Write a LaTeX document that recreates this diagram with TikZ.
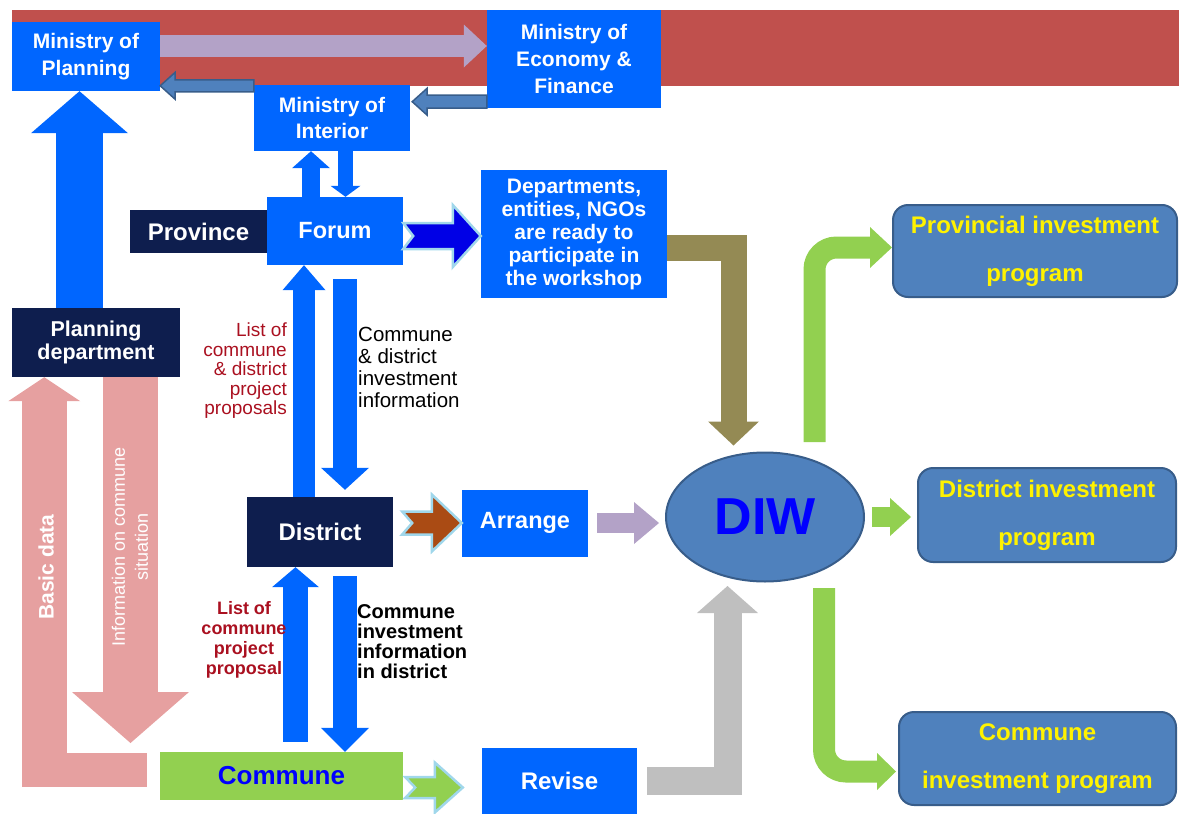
\documentclass[tikz,border=0pt]{standalone}
\usepackage{fontspec}
\setmainfont{Liberation Sans}
\usetikzlibrary{arrows.meta,calc,shapes.geometric}

\definecolor{bandred}{RGB}{192,80,77}
\definecolor{boxblue}{RGB}{0,102,255}
\definecolor{navybox}{RGB}{14,30,78}
\definecolor{steel}{RGB}{79,129,189}
\definecolor{steeldark}{RGB}{56,93,138}
\definecolor{lilacarr}{RGB}{179,162,199}
\definecolor{olivearr}{RGB}{148,138,84}
\definecolor{leaf}{RGB}{146,208,80}
\definecolor{pinkarr}{RGB}{230,160,160}
\definecolor{greyarr}{RGB}{191,191,191}
\definecolor{rustarr}{RGB}{170,75,20}
\definecolor{deepblue}{RGB}{0,0,230}
\definecolor{aqua}{RGB}{160,215,235}
\definecolor{labelred}{RGB}{170,16,32}
\definecolor{diwblue}{RGB}{0,0,255}

% horizontal block arrow: style, from, to, shaft half, head half, head length, notch
\newcommand\blockarrow[7]{%
  \filldraw[#1] let \p1=(#2), \p2=(#3) in
    ({\x1},{\y1+#4pt}) -- ({\x2-(#6pt)},{\y1+#4pt}) -- ({\x2-(#6pt)},{\y1+#5pt}) -- ({\x2},{\y1})
    -- ({\x2-(#6pt)},{\y1-#5pt}) -- ({\x2-(#6pt)},{\y1-#4pt}) -- ({\x1},{\y1-#4pt})
    -- ({\x1+#7pt},{\y1}) -- cycle;}

\begin{document}
\begin{tikzpicture}[x=1pt,y=-1pt,
    box/.style={fill=boxblue,text=white,align=center,inner sep=0pt,
      font=\bfseries\fontsize{21}{26.5}\selectfont},
    darkbox/.style={box,fill=navybox},
    prog/.style={fill=steel,draw=steeldark,line width=2pt,rounded corners=15pt,
      text=yellow,align=center,inner sep=0pt,font=\bfseries\fontsize{24}{48}\selectfont},
    fat/.style n args={4}{draw=#1,line width=#2pt,
      -{Triangle[length=#3pt,width=#4pt,line width=0pt 0 0]}},
    steelarrow/.style={fill=steel,draw=steeldark,line width=1.5pt},
    notch/.style={fill=#1,draw=aqua,line width=2.5pt},
    lbl/.style={inner sep=0pt}]
      \useasboundingbox (0,0) rectangle (1179,814);
      \fill[bandred] (12,10) rectangle (1179,86);

      \node[box,minimum width=148pt,minimum height=69pt] (moplan) at (86,56.5) {Ministry of\\Planning};
      \node[box,minimum width=174pt,minimum height=98pt,font=\bfseries\fontsize{21}{27}\selectfont] (moef) at (574,59) {Ministry of\\Economy \&\\Finance};
      \node[box,minimum width=156pt,minimum height=66pt] (moint) at (332,118) {Ministry of\\Interior};
      \node[darkbox,minimum width=137pt,minimum height=43pt,font=\bfseries\fontsize{24}{26}\selectfont] (province) at (198.5,231.5) {Province};
      \node[box,minimum width=136pt,minimum height=68pt,font=\bfseries\fontsize{23.5}{26}\selectfont] (forum) at (335,231) {Forum};
      \node[box,minimum width=186pt,minimum height=128pt,font=\bfseries\fontsize{21}{23}\selectfont] (dept) at (574,234) {Departments,\\entities, NGOs\\are ready to\\participate in\\the workshop};
      \node[darkbox,minimum width=168pt,minimum height=69pt,font=\bfseries\fontsize{21.5}{23}\selectfont] (plandept) at (96,342.5) {Planning\\department};
      \node[darkbox,minimum width=146pt,minimum height=70pt,font=\bfseries\fontsize{24}{26}\selectfont] (district) at (320,532) {District};
      \node[box,minimum width=126pt,minimum height=67pt,font=\bfseries\fontsize{23.5}{26}\selectfont] (arrange) at (525,523) {Arrange};
      \node[box,minimum width=243pt,minimum height=48pt,fill=leaf,text=diwblue,font=\bfseries\fontsize{26}{28}\selectfont] (commune) at (281.5,776) {Commune};
      \node[box,minimum width=155pt,minimum height=66pt,font=\bfseries\fontsize{24}{26}\selectfont] (revise) at (559.5,781) {Revise};
      \node[ellipse,fill=steel,draw=steeldark,line width=2pt,minimum width=198pt,minimum height=129pt,
        text=diwblue,font=\bfseries\fontsize{52}{52}\selectfont] (diw) at (765,517) {DIW};
      \node[prog,minimum width=284pt,minimum height=92pt] (provprog) at (1035,251) {Provincial investment\\program};
      \node[prog,minimum width=258pt,minimum height=94pt] (distprog) at (1047,515) {District investment\\program};
      \node[prog,minimum width=277pt,minimum height=93pt] (comprog) at (1037.5,758.5) {Commune\\investment program};

      \coordinate (pd1) at ([xshift=-16.5pt]plandept.north);
      \coordinate (mp1) at ([yshift=10.5pt]moplan.east);
      \coordinate (fm1) at ([xshift=-24pt]forum.north);
      \coordinate (fm2) at ([xshift=13.5pt]moint.south);
      \coordinate (fd1) at ([xshift=-31pt]forum.south);
      \coordinate (fd2) at ([shift={(10pt,-14pt)}]forum.south);
      \coordinate (fd3) at ([yshift=7pt]district.north);
      \coordinate (dc1) at ([xshift=-24.5pt]district.south);
      \coordinate (dc0) at ([yshift=10pt]commune.north);
      \coordinate (dc2) at ([shift={(25pt,-9pt)}]district.south);
      \coordinate (da1) at (district.east |- arrange.west);
      \coordinate (ad1) at ([xshift=9pt]arrange.east);
      \coordinate (ad2) at ([xshift=-6pt]diw.west);
      \coordinate (rv1) at ([xshift=10pt]revise.east);
      \coordinate (rv2) at ([shift={(-37.5pt,-3.5pt)}]diw.south);
      \coordinate (dp1) at ([yshift=-13.5pt]dept.east);
      \coordinate (dp2) at ([shift={(-31.5pt,6pt)}]diw.north);
      \coordinate (dw1) at ([shift={(49.5pt,9.5pt)}]diw.north);
      \coordinate (pp1) at ([yshift=3.5pt]provprog.west);
      \coordinate (dw2) at ([xshift=7pt]diw.east);
      \coordinate (dw3) at ([xshift=-6pt]distprog.west);
      \coordinate (dw4) at ([shift={(59pt,-5.5pt)}]diw.south);
      \coordinate (cp1) at ([shift={(-2pt,-13pt)}]comprog.west);
      \coordinate (bd1) at ([shift={(-13pt,6pt)}]commune.west);
      \coordinate (bd2) at ([xshift=32.5pt]plandept.south west);
      \coordinate (bd4) at (bd1 -| bd2);
      \coordinate (pi1) at ([xshift=34.5pt]plandept.south);
      \coordinate (infoend) at (130.5,743);

      \draw[fat={boxblue}{47}{42}{97}] (pd1) -- (pd1 |- moplan.south);
      \draw[fat={lilacarr}{22}{23}{43}] (mp1) -- (mp1 -| moef.west);
      \blockarrow{steelarrow}{[yshift=-1pt]moint.north west}{moplan.east}{6}{13.5}{-15}{0}
      \blockarrow{steelarrow}{[yshift=6.5pt]moef.south west}{[xshift=2pt]moint.east}{6.5}{13.5}{-15}{0}
      \draw[fat={boxblue}{18}{17}{38}] (fm1) -- (fm1 |- moint.south);
      \draw[fat={boxblue}{15}{11}{30}] (fm2) -- (fm2 |- forum.north);
      \blockarrow{notch=deepblue}{[yshift=-5pt]forum.east}{dept.west}{13}{31}{28}{10}
      \draw[fat={boxblue}{22}{25}{43}] (fd1 |- district.north) -- (fd1);
      \draw[fat={boxblue}{24}{22}{48}] (fd2) -- (fd2 |- fd3);
      \draw[fat={boxblue}{25}{20}{47}] (dc1 |- dc0) -- (dc1);
      \draw[fat={boxblue}{24}{24}{48}] (dc2) -- (dc2 |- commune.north);
      \blockarrow{notch=rustarr}{[xshift=9pt]da1}{arrange.west}{11.5}{28.5}{30}{10}
      \draw[fat={lilacarr}{20}{25}{42}] (ad1) -- (ad1 -| ad2);
      \blockarrow{notch=leaf}{[shift={(2pt,-11.5pt)}]commune.east}{[xshift=-19pt]revise.west}{10.5}{25}{28}{10}
      \draw[fat={greyarr}{28}{27}{61}] (rv1) -- (rv1 -| rv2) -- (rv2);
      \draw[fat={olivearr}{26}{24}{51}] (dp1) -- (dp1 -| dp2) -- (dp2);
      \draw[fat={leaf}{22}{22}{41},rounded corners=22pt] (dw1) -- (dw1 |- pp1) -- (pp1);
      \draw[fat={leaf}{20}{21}{38}] (dw2) -- (dw2 -| dw3);
      \draw[fat={leaf}{22}{19}{37},rounded corners=22pt] (dw4) -- (dw4 |- cp1) -- (cp1);
      \draw[pinkarr,line width=34pt] (bd1) -- ++(-125,0);
      \draw[fat={pinkarr}{45}{24}{72}] ([yshift=-17pt]bd4) -- (bd2);
      \draw[fat={pinkarr}{55}{51}{117}] (pi1) -- (infoend);

      \node[lbl,rotate=90,text=white,font=\bfseries\fontsize{21}{24}\selectfont] (basic) at (46,567) {Basic data};
      \node[lbl,rotate=90,text=white,align=center,font=\fontsize{18}{23}\selectfont] (info) at (130,547) {Information on commune\\situation};
      \node[lbl,anchor=east,align=right,text=labelred,font=\fontsize{19}{19.5}\selectfont] (propfd) at (287,371) {List of\\commune\\\& district\\project\\proposals};
      \node[lbl,anchor=west,align=left,font=\fontsize{20.5}{22}\selectfont] (infofd) at (358,367) {Commune\\\& district\\investment\\information};
      \node[lbl,align=center,text=labelred,font=\bfseries\fontsize{18}{20}\selectfont] (propdc) at (244,640) {List of\\commune\\project\\proposal};
      \node[lbl,anchor=west,align=left,font=\bfseries\fontsize{20}{20}\selectfont] (infodc) at (357,642) {Commune\\investment\\information\\in district};
\end{tikzpicture}
\end{document}
